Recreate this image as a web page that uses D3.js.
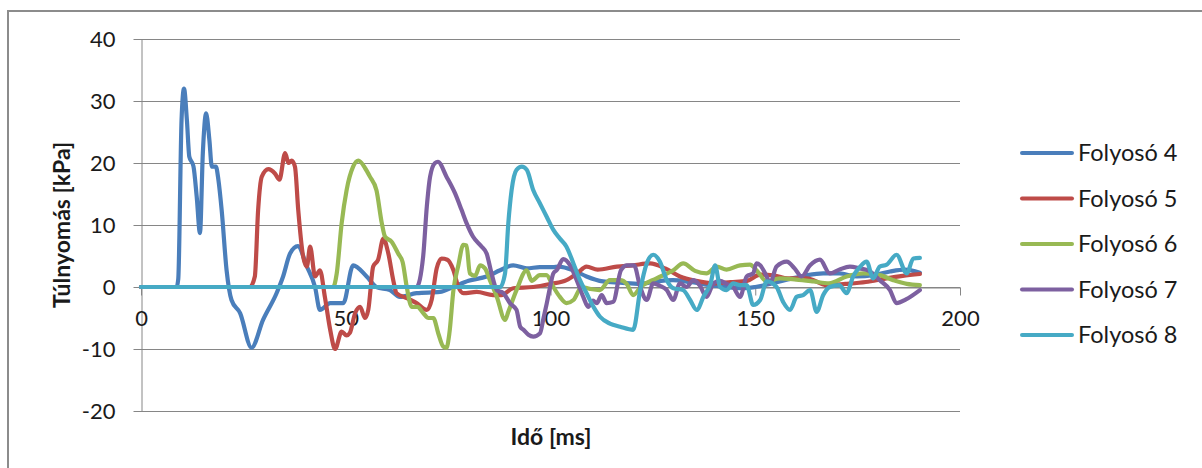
<!DOCTYPE html>
<html>
<head>
<meta charset="utf-8">
<script src="https://cdn.jsdelivr.net/npm/d3@7"></script>
<style>
  body { margin: 0; background: #fff; }
  svg { display: block; font-family: Lato, "Open Sans", sans-serif; }
</style>
</head>
<body>
<script>
// series names and colours
const names = ["Folyosó 4", "Folyosó 5", "Folyosó 6", "Folyosó 7", "Folyosó 8"];
const colors = ["#4a7ebb", "#be4b48", "#98b954", "#7d60a0", "#46aac5"];

const xTicks = [0, 50, 100, 150, 200];
const yTicks = [-20, -10, 0, 10, 20, 30, 40];

// time [ms] and overpressure [kPa]
const t4 = [0, 8.7, 9.1, 9.9, 10.5, 11.2, 11.8, 12.8, 13.6, 14.4, 15.1, 15.9, 16.7, 17.3, 18.3, 18.9, 19.7, 20.9, 22.1, 24.2, 27.0, 29.8, 33.1, 34.7, 36.4, 38.3, 40.5, 42.5, 43.7, 46.2, 49.4, 51.8, 55.1, 57.5, 60.8, 63.2, 67.3, 73.0, 76.2, 80.0, 84.4, 87.7, 90.9, 94.2, 97.4, 100.6, 102.0, 105.6, 108.8, 112.8, 117.0, 121.9, 125.0, 129.9, 134, 139, 143, 147, 150, 154.3, 158.5, 162.6, 166.6, 170.5, 174.8, 178.8, 182.9, 186.5, 190.2];
const p4 = [0, 0, 1.3, 26.9, 32, 27, 21, 19.5, 14.6, 8.7, 21.6, 28, 23.7, 19.4, 19.4, 17.3, 12.4, 2.7, -2.1, -4.2, -9.8, -5.3, -1, 1.7, 5.4, 6.6, 3.3, 0, -3.7, -2.6, -2.6, 3.5, 1.7, 0, -0.5, -1.6, -1, -0.8, 0, 1, 1.7, 2.7, 3.5, 3, 3.2, 3.2, 3.3, 2.7, 1.7, 0.9, 0.7, 0.5, 0.8, 1.1, 0.8, 0.3, 0, -0.2, 0, 0.6, 1.3, 1.9, 2.2, 2.2, 1.7, 1.9, 2.5, 2.8, 2.3];

const t5 = [0, 26.6, 27.8, 28.6, 29.5, 31.1, 32.7, 33.8, 35.2, 36.0, 36.8, 37.6, 38.4, 39.6, 40.5, 41.3, 42.5, 43.7, 44.9, 46.2, 47.4, 49.0, 50.2, 51.0, 52.3, 53.5, 54.7, 55.5, 56.7, 57.9, 59.2, 60.4, 61.6, 62.4, 64.9, 67.3, 69.8, 71.0, 72.2, 73.4, 74.8, 76.3, 77.5, 78.7, 82, 86, 88, 90.9, 95.8, 100, 103.9, 106.5, 108.8, 111.5, 116.2, 120, 124.3, 128, 131.6, 135.5, 139.8, 144, 148, 151.2, 154.3, 158, 162.6, 167.4, 172, 177, 182, 186, 190.2];
const p5 = [0, 0, 1.7, 12.4, 17.8, 19, 18.3, 17.3, 21.6, 20, 20.4, 19.4, 12.4, 4.9, 3.3, 6.5, 1.7, 2.7, -1.6, -6.9, -10, -7.2, -7.8, -7.4, -4.2, -3.2, -5, -3.7, 3.3, 4.4, 7.8, 5.4, 1.1, -1, -1.8, -2.6, -3.7, -2, 3, 4.6, 4.4, 2.7, 0, -1, -0.8, -1.3, -1.3, -0.2, 0, 0.5, 1.1, 2.2, 3.3, 2.8, 3.3, 3.5, 3.8, 3.0, 1.7, 1.0, 0.6, 0.8, 1.0, 2.0, 1.9, 1.4, 1.4, 0.3, 0.5, 0.8, 1.4, 1.8, 2.1];

const t6 = [0, 46.9, 47.8, 49.0, 50.2, 51.8, 53.1, 54.7, 55.9, 57.5, 58.8, 59.6, 61.2, 62.8, 63.9, 64.9, 66.1, 67.5, 68.9, 70.2, 71.4, 72.6, 73.8, 74.6, 75.3, 76.3, 77.5, 78.7, 79.5, 80.3, 81.6, 82.8, 84.0, 85.2, 86.9, 88.9, 89.7, 91.7, 94.2, 95.4, 97.4, 99, 100.7, 102.3, 103.9, 105.6, 107.6, 109.6, 112, 114.5, 117, 118.6, 120.2, 122, 125.9, 130, 132.4, 135.3, 138.1, 140.6, 143, 146.3, 148.7, 150.3, 152.8, 156, 160, 164.2, 168, 172.3, 176.4, 180, 183.7, 187, 190.2];
const p6 = [0, 0, 2.2, 10.3, 15.6, 19.4, 20.4, 19.2, 17.8, 15.6, 10.3, 8.1, 7.3, 5.4, 4.0, 0, -3.2, -3.2, -4.2, -5, -5, -7.5, -9.6, -9.8, -7.5, -0.5, 3.5, 6.8, 6.7, 2.2, 1.8, 3.5, 3.0, 1.1, -1.6, -5.3, -4, -0.5, 2.7, 1.0, 1.9, 1.9, 0, -1.6, -2.6, -2.1, 0, -0.3, -0.5, 1.1, 1.1, 0.5, -1.3, 0, 1.4, 2.7, 3.8, 2.6, 2.2, 3.3, 2.8, 3.5, 3.6, 2.7, 0.9, 1.4, 1.2, 0.9, 0.6, 1.7, 2.2, 2.0, 1.1, 0.5, 0.3];

const t7 = [0, 67.3, 68.9, 69.8, 70.6, 71.8, 72.5, 74.6, 76.7, 78.3, 79.5, 81.1, 83.2, 84.4, 85.6, 86.9, 88.5, 90.1, 91.7, 92.6, 93.4, 94.6, 95.8, 97.4, 98.3, 99.1, 99.9, 100.7, 101.5, 103.1, 104.8, 106.4, 108, 109.2, 110.4, 111.3, 112.5, 113.7, 115.3, 117.2, 118.6, 120.4, 121.9, 123.5, 125.1, 126.7, 128.4, 130, 131.6, 133.2, 134.9, 136.5, 138.1, 139.8, 141.4, 143.0, 144.6, 146.3, 147.9, 149.5, 150.3, 151.2, 152.8, 153.6, 155.2, 157.7, 159.6, 161.3, 163.4, 165.8, 168.2, 170.5, 173.1, 175.5, 177.8, 180.4, 182.9, 184.5, 186.8, 190.2];
const p7 = [0, 0, 4.9, 13, 17.8, 20, 20.2, 17.8, 15.1, 12.4, 10.3, 8.1, 6.5, 5.4, 2.2, -0.5, -1.0, -2.6, -3.7, -6.4, -6.9, -7.7, -8, -7.5, -5, -2.6, 0, 2.2, 2.7, 4.5, 3.5, 1.1, -1.6, -3.2, -2.2, -2.6, -1.3, -2.6, -2.4, 2.7, 3.5, 3.5, 0, -2.1, 0.6, 0.2, -0.5, -2.1, 0.6, 0, 1.1, 0.2, -1.6, 0.6, 1.0, 0.5, 0, -1.6, 1.7, 2.2, 3.8, 3.5, 1.7, 0.6, 3.3, 4.1, 3.0, 1.7, 3.5, 4.4, 2.2, 2.8, 3.3, 3.0, 2.6, 1.1, -0.5, -2.6, -2.0, -0.5];

const t8 = [0, 87.7, 88.9, 89.7, 90.5, 91.7, 93.0, 94.2, 95.8, 97.4, 99.1, 100.7, 102.3, 103.9, 105.6, 107.2, 108.8, 110.5, 112.1, 114.5, 117, 120.2, 121.9, 123.5, 125.1, 126.7, 128.4, 130, 132.4, 134.1, 135.7, 137.4, 139.1, 140.2, 141.4, 143, 144.6, 146.3, 147.9, 149.5, 151.2, 152.8, 155.2, 156.8, 158.5, 160.1, 161.7, 163.4, 165, 166.6, 168.2, 170.5, 172.3, 173.9, 175.5, 177.2, 178.8, 180.4, 182.1, 184.5, 187, 188.6, 190.2];
const p8 = [0, 0, 2.2, 10.3, 15.6, 18.9, 19.4, 18.9, 15.6, 13.5, 11.3, 9.2, 7.8, 6.5, 3.8, 1.1, -1, -3.2, -4.8, -5.9, -6.4, -6.9, -0.5, 3.8, 5.2, 4.1, 1.1, -0.2, -0.5, -2.1, -3.7, -1.5, 0.6, 3.5, 0, -0.5, 0.6, 0.3, 0.3, -2.9, -2.1, 0.9, 0, -2.4, -3.7, -1.6, -1.3, -0.5, -4, -1.3, 0, 0.3, -1, 1.7, 3.2, 4.1, 1.4, 3.3, 3.6, 5.2, 2.2, 4.6, 4.7];

const times = [t4, t5, t6, t7, t8];
const values = [p4, p5, p6, p7, p8];

const width = 1202, height = 468;
const axisColor = "#868686";

const x = d3.scaleLinear().domain([0, 200]).range([141, 960]);
const y = d3.scaleLinear().domain([-20, 40]).range([411, 39]);

const svg = d3.select("body").append("svg")
    .attr("width", width)
    .attr("height", height);

svg.append("rect")
    .attr("x", 8).attr("y", 11)
    .attr("width", 1210).attr("height", 480)
    .attr("fill", "#fff")
    .attr("stroke", "#8c8c8c")
    .attr("stroke-width", 2);

// gridlines
svg.append("g")
  .selectAll("line")
  .data(yTicks)
  .join("line")
    .attr("x1", x(0)).attr("x2", x(200))
    .attr("y1", d => y(d) + 0.5).attr("y2", d => y(d) + 0.5)
    .attr("stroke", axisColor);

// plain hyphen for negatives, like the source
const fmt = d => String(d);

const yAxis = svg.append("g")
    .attr("transform", `translate(${x(0) + 0.5},0)`)
    .call(d3.axisLeft(y).tickValues(yTicks).tickFormat(fmt).tickSize(8).tickSizeOuter(0).tickPadding(18));

const xAxis = svg.append("g")
    .attr("transform", `translate(0,${y(0) + 0.5})`)
    .call(d3.axisBottom(x).tickValues(xTicks).tickFormat(fmt).tickSize(8).tickSizeOuter(0).tickPadding(15));

[yAxis, xAxis].forEach(g => {
  g.selectAll("path, line").attr("stroke", axisColor);
  g.selectAll("text").attr("font-size", 22).attr("fill", "#1a1a1a").attr("font-family", "Lato, sans-serif");
});

const line = (ts, ps) => d3.line()
    .x(i => x(ts[i]))
    .y(i => y(ps[i]))
    .curve(d3.curveMonotoneX)(d3.range(ts.length));

svg.append("g")
  .selectAll("path")
  .data(d3.range(names.length))
  .join("path")
    .attr("d", k => line(times[k], values[k]))
    .attr("fill", "none")
    .attr("stroke", k => colors[k])
    .attr("stroke-width", 4.2)
    .attr("stroke-linejoin", "round")
    .attr("stroke-linecap", "round");

// axis titles
svg.append("text")
    .attr("transform", "translate(70,225) rotate(-90)")
    .attr("text-anchor", "middle")
    .attr("font-size", 23)
    .attr("font-weight", "bold")
    .attr("fill", "#1a1a1a")
    .text("Túlnyomás [kPa]");

svg.append("text")
    .attr("x", 551).attr("y", 445)
    .attr("text-anchor", "middle")
    .attr("font-size", 23)
    .attr("font-weight", "bold")
    .attr("fill", "#1a1a1a")
    .text("Idő [ms]");

// legend
const legend = svg.append("g")
  .selectAll("g")
  .data(names)
  .join("g")
    .attr("transform", (d, i) => `translate(1020,${153 + i * 45.5})`);

legend.append("line")
    .attr("x1", 2).attr("x2", 52)
    .attr("stroke", (d, i) => colors[i])
    .attr("stroke-width", 4)
    .attr("stroke-linecap", "round");

legend.append("text")
    .attr("x", 58).attr("y", 8)
    .attr("font-size", 23.5)
    .attr("fill", "#1a1a1a")
    .text(d => d);
</script>
</body>
</html>
